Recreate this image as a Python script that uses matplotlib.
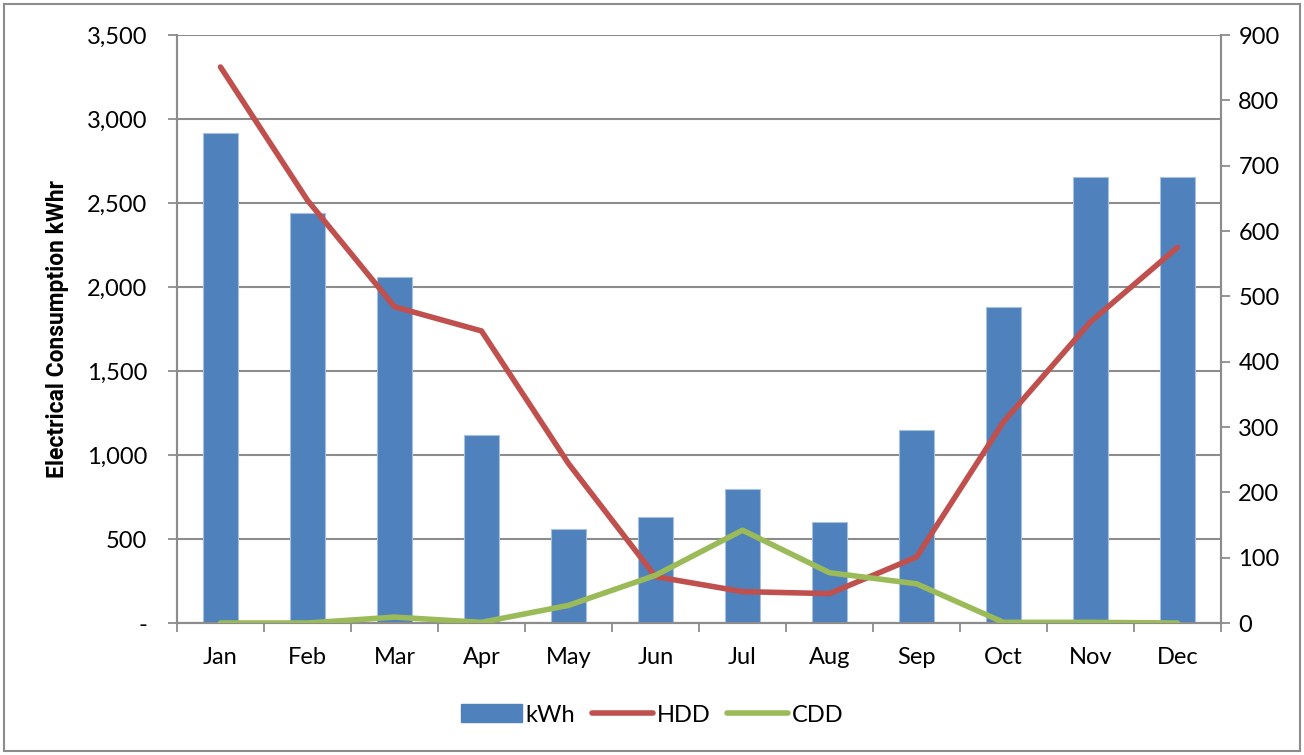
import numpy as np
import matplotlib.pyplot as plt
from matplotlib.patches import Rectangle, Patch
from matplotlib.lines import Line2D
from matplotlib.ticker import FuncFormatter

plt.rcParams['font.family'] = ['Lato', 'DejaVu Sans']

months = ['Jan', 'Feb', 'Mar', 'Apr', 'May', 'Jun', 'Jul', 'Aug', 'Sep', 'Oct', 'Nov', 'Dec']
kwh = [2915, 2440, 2058, 1117, 561, 629, 798, 601, 1149, 1879, 2655, 2655]
hdd = [851, 647, 484, 447, 244, 71, 48, 45, 101, 308, 461, 575]
cdd = [0, 0, 9, 1, 27, 73, 142, 77, 60, 1, 1, 0]

bar_c = '#4F81BD'
hdd_c = '#C0504D'
cdd_c = '#9BBB59'
grid_c = '#8C8C8C'

fig = plt.figure(figsize=(13.04, 7.55), dpi=100)
ax = fig.add_axes([177 / 1304, 1 - 623 / 755, (1221 - 177) / 1304, (623 - 35) / 755])
ax2 = ax.twinx()

x = np.arange(len(months))
ax.bar(x, kwh, width=0.4, color=bar_c, edgecolor='#A7C0DE', linewidth=0.8, zorder=3)
ax.set_xlim(-0.5, 11.5)
ax.set_ylim(0, 3500)
ax.set_yticks(np.arange(0, 3501, 500))
ax.yaxis.set_major_formatter(FuncFormatter(lambda v, p: '-' if v == 0 else f'{int(v):,}'))
ax.grid(axis='y', color=grid_c, linewidth=1.5, zorder=0)
ax.set_axisbelow(True)

ax.set_xticks(x)
ax.set_xticklabels(months)
ax.set_xticks(np.arange(-0.5, 12, 1), minor=True)
ax.tick_params(axis='x', which='major', length=0, pad=17, labelsize=17)
ax.tick_params(axis='x', which='minor', length=6.5, color=grid_c, width=1.3)
ax.tick_params(axis='y', length=6.5, color=grid_c, width=1.3, labelsize=17, pad=15)
ax.set_ylabel('Electrical Consumption kWhr', fontsize=16.5, fontweight='bold',
              family=['Roboto', 'DejaVu Sans'], labelpad=13)

ax2.plot(x, hdd, color=hdd_c, linewidth=4, solid_capstyle='round', zorder=4)
ax2.plot(x, cdd, color=cdd_c, linewidth=4, solid_capstyle='round', zorder=4)
ax2.set_ylim(0, 900)
ax2.set_yticks(np.arange(0, 901, 100))
ax2.tick_params(axis='y', length=6.5, color=grid_c, width=1.3, labelsize=17, pad=6)

for a in (ax, ax2):
    a.spines['top'].set_visible(False)
    for s in ('left', 'right', 'bottom'):
        a.spines[s].set_color(grid_c)
        a.spines[s].set_linewidth(1.5)

handles = [Patch(facecolor=bar_c, edgecolor=bar_c, label='kWh'),
           Line2D([0], [0], color=hdd_c, linewidth=4, solid_capstyle='round', label='HDD'),
           Line2D([0], [0], color=cdd_c, linewidth=4, solid_capstyle='round', label='CDD')]
fig.legend(handles=handles, loc='center', bbox_to_anchor=(0.5, 1 - 715 / 755), ncol=3,
           frameon=False, fontsize=17, handlelength=2.6, handleheight=0.8,
           handletextpad=0.15, columnspacing=0.7)

fig.patches.append(Rectangle((4 / 1304, 4 / 755), 1 - 8 / 1304, 1 - 8 / 755, transform=fig.transFigure,
                             fill=False, edgecolor=grid_c, linewidth=1.5))

fig.savefig('out.png', dpi=100)
